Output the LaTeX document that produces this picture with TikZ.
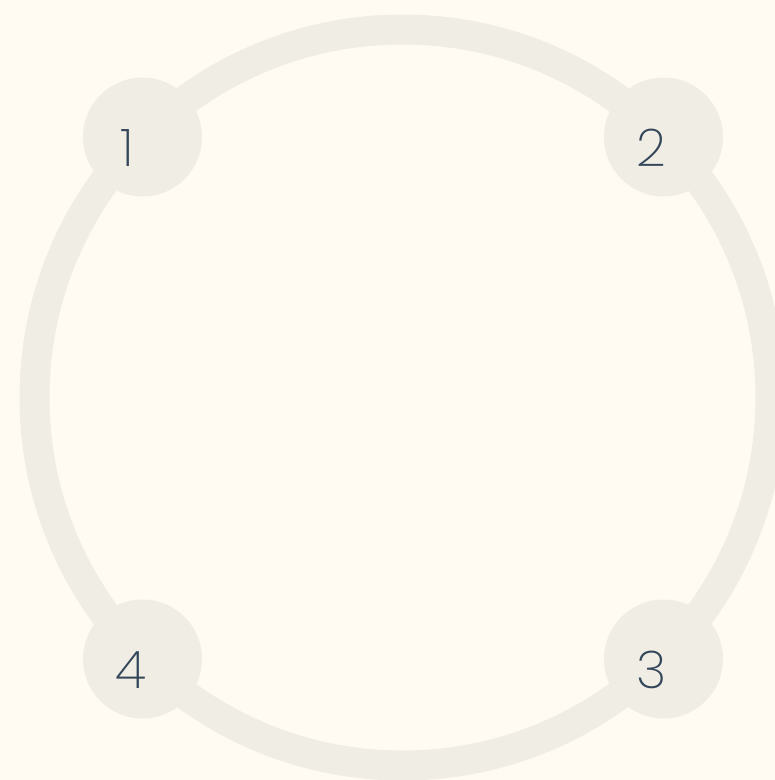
\documentclass[tikz,border=0pt]{standalone}
\usepackage{fontspec}
\newfontfamily\thinfont{Poppins ExtraLight}
\definecolor{bg}{HTML}{FFFBF2}
\definecolor{ringc}{HTML}{F0EDE4}
\definecolor{txt}{HTML}{34475A}
\begin{document}
\begin{tikzpicture}[x=1pt,y=-1pt,
  hub/.style={circle,fill=ringc,minimum size=119pt,inner sep=0pt},
  lbl/.style={text=txt,font=\thinfont\fontsize{52}{52}\selectfont,inner sep=0pt}]
\fill[bg] (0,0) rectangle (775,780);
\useasboundingbox (0,0) rectangle (775,780);
\coordinate (c) at (402.5,397.5);
\draw[ringc,line width=30pt] (c) circle[radius=368];
\node[hub] (n1) at (142.5,137) {};
\node[hub] (n2) at (663.5,137) {};
\node[hub] (n3) at (663.5,659) {};
\node[hub] (n4) at (142.5,659) {};
\node[lbl] (t1) at ([xshift=-15pt,yshift=-11pt]n1) {1};
\node[lbl] (t2) at ([xshift=-12pt,yshift=-11pt]n2) {2};
\node[lbl] (t3) at ([xshift=-12pt,yshift=-11pt]n3) {3};
\node[lbl] (t4) at ([xshift=-12pt,yshift=-11pt]n4) {4};
\end{tikzpicture}
\end{document}
